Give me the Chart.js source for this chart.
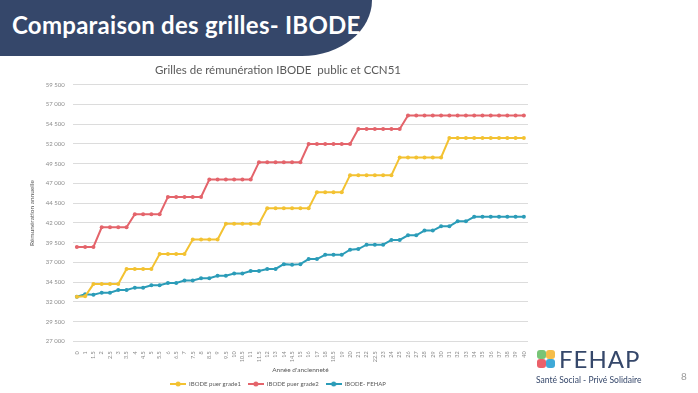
<!DOCTYPE html>
<html lang="fr">
<head>
<meta charset="utf-8">
<script src="https://cdn.jsdelivr.net/npm/chart.js@4.4.1/dist/chart.umd.min.js"></script>
<style>
  html, body { margin: 0; padding: 0; }
  body { width: 698px; height: 393px; position: relative; overflow: hidden; background: #fff; font-family: Lato, sans-serif; }
  .banner {
    position: absolute; left: 0; top: 0; width: 372px; height: 56px;
    background: #35476a;
    border-bottom-right-radius: 70px 56px;
  }
  .banner h1 {
    margin: 0; position: absolute; left: 12px; top: 10px;
    color: #fff; font-size: 24px; font-weight: 700; letter-spacing: 0.25px; white-space: nowrap;
  }
  #chartBox { position: absolute; left: 0; top: 58px; }
  .logo { position: absolute; left: 537px; top: 350px; width: 19px; height: 19px; }
  .logo span { position: absolute; width: 9px; height: 9px; border-radius: 3px; opacity: 0.92; }
  .brand { position: absolute; left: 559px; top: 344px; font-size: 24px; color: #35476a; letter-spacing: 1px; }
  .tagline { position: absolute; left: 536px; top: 375px; font-size: 8.5px; color: #35476a; white-space: nowrap; }
  .pagenum { position: absolute; left: 681px; top: 370px; font-size: 10px; color: #9a9a9a; }
</style>
</head>
<body>
<div class="banner"><h1>Comparaison des grilles- IBODE</h1></div>
<canvas id="chartBox" width="600" height="339"></canvas>
<div class="logo">
  <span style="left:0;top:0;background:#6cbf6a"></span>
  <span style="left:9px;top:0;background:#f4b73a"></span>
  <span style="left:0;top:9px;background:#e8525c"></span>
  <span style="left:9px;top:9px;background:#2fa2d4"></span>
</div>
<div class="brand">FEHAP</div>
<div class="tagline">Santé Social - Privé Solidaire</div>
<div class="pagenum">8</div>

<script>
// Année d'ancienneté
const years = ['0', '1', '1.5', '2', '2.5', '3', '3.5', '4', '4.5', '5', '5.5', '6', '6.5', '7', '7.5',
    '8', '8.5', '9', '9.5', '10', '10.5', '11', '11.5', '12', '13', '14', '14.5', '15', '16', '17',
    '18', '18.5', '19', '20', '21', '22', '22.5', '23', '24', '25', '26', '27', '28', '29', '30',
    '31', '32', '33', '34', '35', '36', '37', '38', '39', '40'];

const grade1 = [32650, 32700,
    34250, 34250, 34250, 34250,
    36150, 36150, 36150, 36150,
    38050, 38050, 38050, 38050,
    39900, 39900, 39900, 39900,
    41900, 41900, 41900, 41900, 41900,
    43850, 43850, 43850, 43850, 43850, 43850,
    45900, 45900, 45900, 45900,
    48050, 48050, 48050, 48050, 48050, 48050,
    50300, 50300, 50300, 50300, 50300, 50300,
    52750, 52750, 52750, 52750, 52750, 52750, 52750, 52750, 52750, 52750];

const grade2 = [38950, 38950, 38950,
    41450, 41450, 41450, 41450,
    43100, 43100, 43100, 43100,
    45300, 45300, 45300, 45300, 45300,
    47500, 47500, 47500, 47500, 47500, 47500,
    49700, 49700, 49700, 49700, 49700, 49700,
    52000, 52000, 52000, 52000, 52000, 52000,
    53900, 53900, 53900, 53900, 53900, 53900,
    55600, 55600, 55600, 55600, 55600, 55600, 55600, 55600, 55600, 55600,
    55600, 55600, 55600, 55600, 55600];

const fehap = [32650, 32950, 32900,
    33170, 33170, 33500, 33500, 33800, 33800, 34100, 34100, 34400, 34400,
    34700, 34700, 35000, 35000, 35300, 35300, 35600, 35600, 35900, 35900,
    36170, 36170, 36780, 36700, 36780,
    37420, 37420, 37960, 37960, 37960, 38600, 38690,
    39240, 39240, 39240, 39840, 39840, 40430, 40430, 41030, 41030,
    41580, 41580, 42200, 42200,
    42780, 42780, 42780, 42780, 42780, 42780, 42780];

const seriesNames = ['IBODE puer grade1', 'IBODE puer grade2', 'IBODE- FEHAP'];
const seriesColors = ['#f3c232', '#e4646b', '#2b9cb8'];

// y ticks: 27 000 -> 59 500
const yMin = 27000;
const yMax = 59500;
const yStep = 2500;

// little "line + dot" swatch for the legend, like Excel does it
function legendSwatch(color) {
    const c = document.createElement('canvas');
    c.width = 16;
    c.height = 6;
    const g = c.getContext('2d');
    g.strokeStyle = color;
    g.lineWidth = 2;
    g.beginPath();
    g.moveTo(0, 3);
    g.lineTo(16, 3);
    g.stroke();
    g.fillStyle = color;
    g.beginPath();
    g.arc(8, 3, 2.5, 0, Math.PI * 2);
    g.fill();
    return c;
}

function makeSet(label, values, color) {
    return {
        label: label,
        data: values,
        borderColor: color,
        backgroundColor: color,
        borderWidth: 2,
        pointRadius: 2,
        pointBorderWidth: 0,
        pointBackgroundColor: color,
        tension: 0
    };
}

const ctx = document.getElementById('chartBox').getContext('2d');

new Chart(ctx, {
    type: 'line',
    data: {
        labels: years,
        datasets: [
            makeSet(seriesNames[0], grade1, seriesColors[0]),
            makeSet(seriesNames[1], grade2, seriesColors[1]),
            makeSet(seriesNames[2], fehap, seriesColors[2])
        ]
    },
    options: {
        responsive: false,
        animation: false,
        devicePixelRatio: 1,
        layout: { padding: { left: 28, right: 72, top: 0, bottom: 0 } },
        plugins: {
            title: {
                display: true,
                text: 'Grilles de rémunération IBODE  public et CCN51',
                color: '#595959',
                font: { family: 'Lato', size: 11.5, weight: 'normal' },
                padding: { top: 5, bottom: 8 }
            },
            legend: {
                position: 'bottom',
                labels: {
                    usePointStyle: true,
                    pointStyleWidth: 16,
                    color: '#595959',
                    font: { family: 'Lato', size: 6 },
                    padding: 7,
                    generateLabels: (chart) => {
                        const items = Chart.defaults.plugins.legend.labels.generateLabels(chart);
                        items.forEach((it, i) => { it.pointStyle = legendSwatch(seriesColors[i]); });
                        return items;
                    }
                }
            },
            tooltip: { enabled: false }
        },
        scales: {
            x: {
                offset: true,
                grid: { display: false },
                border: { display: false },
                ticks: {
                    autoSkip: false,
                    minRotation: 90,
                    maxRotation: 90,
                    color: '#8c8c8c',
                    font: { family: 'Lato', size: 5.5 },
                    padding: 2
                },
                title: {
                    display: true,
                    text: "Année d'ancienneté",
                    color: '#595959',
                    font: { family: 'Lato', size: 6.5 },
                    padding: { top: 2, bottom: 0 }
                }
            },
            y: {
                min: yMin,
                max: yMax,
                border: { display: false },
                grid: { color: '#dcdcdc', drawTicks: false, lineWidth: 1 },
                ticks: {
                    stepSize: yStep,
                    color: '#8c8c8c',
                    font: { family: 'Lato', size: 6 },
                    padding: 8,
                    callback: (v) => String(v).replace(/\B(?=(\d{3})+(?!\d))/g, ' ')
                },
                title: {
                    display: true,
                    text: 'Rémunération annuelle',
                    color: '#595959',
                    font: { family: 'Lato', size: 6.5 },
                    padding: { top: 0, bottom: 2 }
                }
            }
        }
    }
});
</script>
</body>
</html>
